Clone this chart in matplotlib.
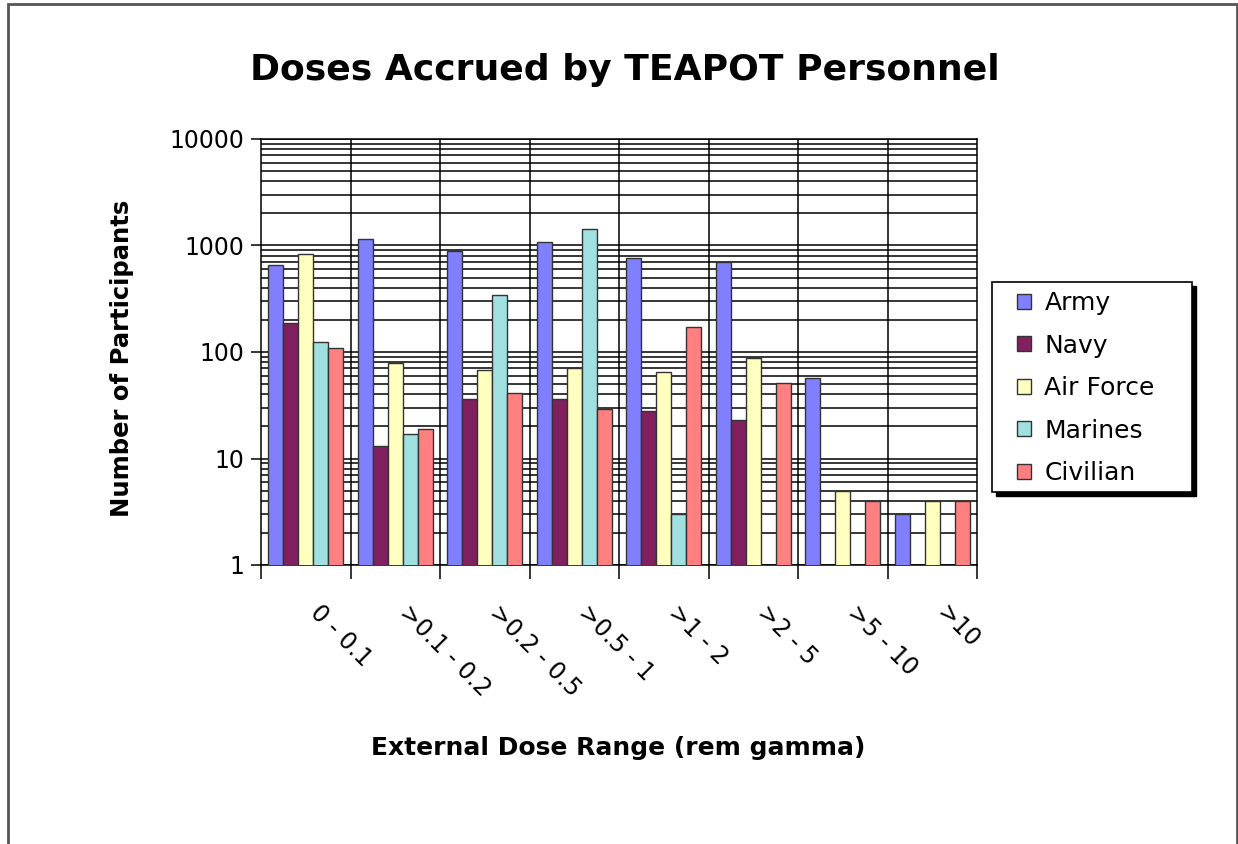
import matplotlib
matplotlib.use("agg")
import matplotlib.pyplot as plt
from matplotlib.patches import Rectangle
import matplotlib.transforms as mtransforms
import numpy as np

plt.rcParams['font.family'] = ['DejaVu Sans']

# dose ranges (rem gamma)
categorias = ['0 - 0.1', '>0.1 - 0.2', '>0.2 - 0.5', '>0.5 - 1', '>1 - 2', '>2 - 5', '>5 - 10', '>10']
series = ['Army', 'Navy', 'Air Force', 'Marines', 'Civilian']
army = [650, 1150, 880, 1080, 760, 700, 57, 3]
navy = [188, 13, 36, 36, 28, 23, None, None]
air_force = [830, 78, 68, 71, 65, 88, 5, 4]
marines = [124, 17, 343, 1430, 3, None, None, None]
civilian = [108, 19, 41, 29, 172, 51, 4, 4]
cores = ['#8080FF', '#80205F', '#FFFFC0', '#A0E0E0', '#FF8080']

valores = [army, navy, air_force, marines, civilian]
W, H = 1238, 844

fig = plt.figure(figsize=(W/100, H/100), dpi=100)
# borda do grafico
fig.patches.append(Rectangle((8/W, -0.01), (1237-8)/W, 1.01 - 4/H,
                             transform=fig.transFigure, fill=False,
                             edgecolor='#555555', linewidth=2))

ax = fig.add_axes([261/W, 1-565/H, 716/W, (565-139)/H])
ax.set_yscale('log')

x = np.arange(len(categorias))
w = 1/6.0
for i in range(len(series)):
    v = np.array([np.nan if a is None else a for a in valores[i]], float)
    ax.bar(x - 2*w + i*w, v, w, color=cores[i], edgecolor='#333333',
           linewidth=1, label=series[i], zorder=3)

ax.set_xlim(-0.5, len(categorias) - 0.5)
ax.set_ylim(1, 10000)

# grid
ax.set_yticks([1, 10, 100, 1000, 10000])
ax.set_yticklabels(['1', '10', '100', '1000', '10000'], fontsize=17)
ax.yaxis.set_minor_locator(matplotlib.ticker.LogLocator(base=10, subs=np.arange(2, 10)))
ax.yaxis.set_minor_formatter(matplotlib.ticker.NullFormatter())
ax.grid(True, which='both', axis='y', color='black', linewidth=1.1, zorder=0)
ax.set_axisbelow(True)
for b in np.arange(0.5, len(categorias) - 0.5):
    ax.axvline(b, color='black', linewidth=1.1, zorder=0)
ax.tick_params(axis='y', which='major', length=7, width=1.1, pad=5)
ax.tick_params(axis='y', which='minor', length=0)

ax.set_xticks(np.arange(-0.5, len(categorias)), minor=True)
ax.tick_params(axis='x', which='minor', length=10, width=1.1, direction='out')
ax.set_xticks(x)
ax.set_xticklabels(categorias, fontsize=17, rotation=-45, ha='left', va='center',
                   rotation_mode='anchor')
ax.tick_params(axis='x', which='major', length=0, pad=32)
desloc = mtransforms.ScaledTranslation(8/100, 0, fig.dpi_scale_trans)
for lab in ax.get_xticklabels():
    lab.set_transform(lab.get_transform() + desloc)

for s in ax.spines.values():
    s.set_color('black')
    s.set_linewidth(1.1)

fig.text(625/W, 1-70/H, 'Doses Accrued by TEAPOT Personnel', fontsize=26,
         fontweight='bold', ha='center', va='center')
fig.text(618/W, 1-748/H, 'External Dose Range (rem gamma)', fontsize=18,
         fontweight='bold', ha='center', va='center')
fig.text(122/W, 1-358/H, 'Number of Participants', fontsize=17.5,
         fontweight='bold', ha='center', va='center', rotation=90)

# caixa da legenda com sombra
fig.patches.append(Rectangle((996/W, 1-496/H), 200/W, 210/H, transform=fig.transFigure,
                             facecolor='black', edgecolor='black', zorder=4))
fig.patches.append(Rectangle((992/W, 1-492/H), 200/W, 210/H, transform=fig.transFigure,
                             facecolor='white', edgecolor='black', linewidth=1.2, zorder=5))
leg = fig.legend(loc='upper left', bbox_to_anchor=(1017/W, 1-291/H),
                 fontsize=18, frameon=False,
                 handlelength=0.55, handleheight=0.55, handletextpad=0.55,
                 labelspacing=0.74, borderpad=0, borderaxespad=0)
leg.set_zorder(6)

plt.savefig('out.png', dpi=100)
plt.close()
